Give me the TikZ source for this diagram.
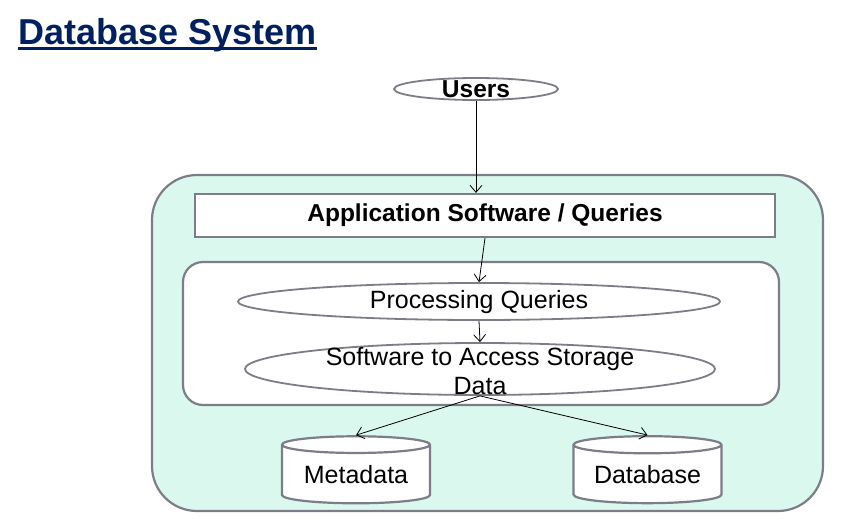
\documentclass[tikz,border=0pt]{standalone}
\usepackage{fontspec}
\setmainfont{Liberation Sans}
\definecolor{dbnavy}{RGB}{0,32,96}
\definecolor{dbgray}{RGB}{125,125,135}
\definecolor{dbmint}{RGB}{218,248,238}
\usetikzlibrary{arrows.meta,positioning,shapes.geometric,calc}

\begin{document}
\begin{tikzpicture}[x=1pt, y=-1pt,
  panel/.style={draw=dbgray, line width=2.2pt, rectangle, inner sep=0pt},
  oval/.style={draw=dbgray, fill=white, line width=1.8pt, ellipse, inner sep=0pt},
  store/.style={draw=dbgray, fill=white, line width=2.2pt, cylinder, shape border rotate=90, aspect=0.16, minimum width=148pt, minimum height=67pt, inner sep=0pt, font=\fontsize{25}{29}\selectfont},
  flow/.style={-{Straight Barb[length=7pt, width=12pt]}, line width=0.8pt, black}
]
  \useasboundingbox (0,0) rectangle (861,527);

  %% Title
  \node[anchor=base west, inner sep=0pt, text=dbnavy, font=\fontsize{36}{40}\selectfont\bfseries] (title) at (18,45) {Database System};
  \draw[dbnavy, line width=2.6pt] ([yshift=-3.8pt]title.base west) -- ([yshift=-3.8pt]title.base east);

  %% Users
  \node[oval, minimum width=164pt, minimum height=22pt, label={[font=\fontsize{24.5}{28}\selectfont\bfseries]center:Users}] (users) at (476,89) {};

  %% Outer system panel
  \node[panel, fill=dbmint, rounded corners=45pt, minimum width=671pt, minimum height=336pt] (sys) at (487.5,343) {};

  %% Application layer
  \node[panel, fill=white, minimum width=580pt, minimum height=43pt, font=\fontsize{24.5}{28}\selectfont\bfseries, yshift=-2pt] (app) at (485,213.5) {Application Software / Queries};

  %% DBMS software panel
  \node[panel, fill=white, rounded corners=20pt, minimum width=596pt, minimum height=143pt] (dbms) at (481,333.5) {};
  \node[oval, minimum width=482pt, minimum height=37pt, label={[font=\fontsize{25}{29}\selectfont, yshift=-1pt]center:Processing Queries}] (proc) at (479,301.5) {};
  \node[oval, minimum width=470pt, minimum height=52pt, label={[font=\fontsize{25}{29}\selectfont, align=center, yshift=-2pt]center:Software to Access Storage\\Data}] (soft) at (480,369) {};

  %% Storage
  \node[store] (meta) at (356,474.5) {Metadata};
  \node[store] (dbase) at (647.5,474.5) {Database};

  %% Connectors
  \draw[flow] (users.south) -- (users.south |- app.north);
  \draw[flow] (app.south) -- (proc.north);
  \draw[flow] (proc.south) -- (soft.north);
  \draw[flow] (soft.south) -- (meta.north);
  \draw[flow] (soft.south) -- (dbase.north);
\end{tikzpicture}
\end{document}
